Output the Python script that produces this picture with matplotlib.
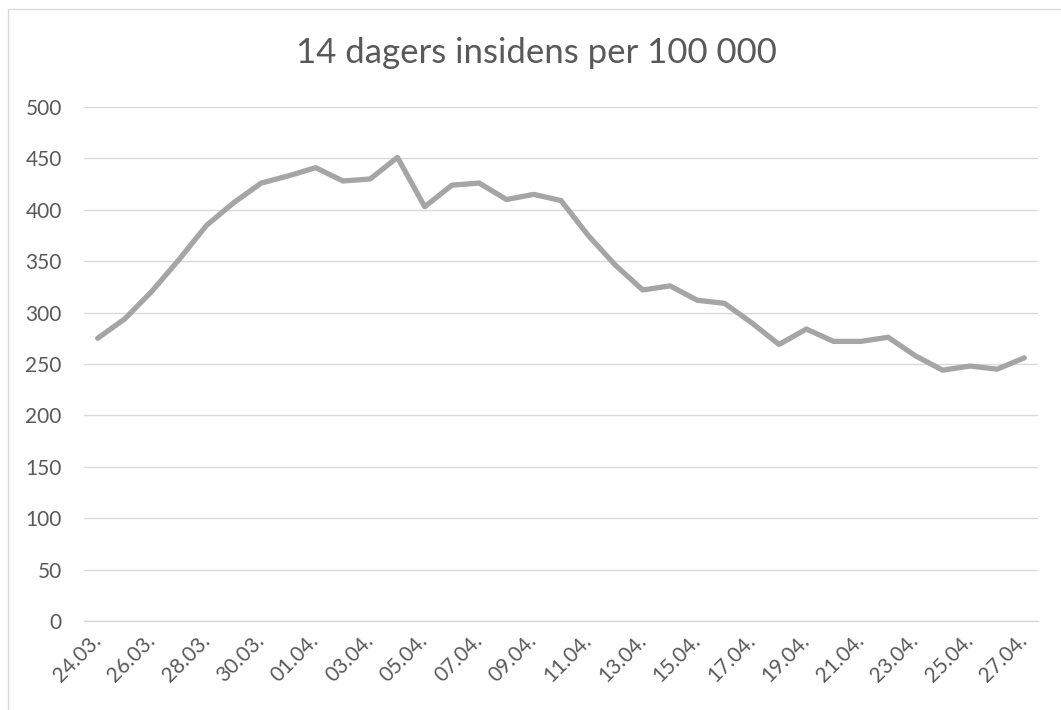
import matplotlib
matplotlib.use("Agg")
import matplotlib.pyplot as plt
from matplotlib.patches import Rectangle

plt.rcParams['font.family'] = ['Lato', 'DejaVu Sans']

dates = ['24.03.', '25.03.', '26.03.', '27.03.', '28.03.', '29.03.', '30.03.', '31.03.',
         '01.04.', '02.04.', '03.04.', '04.04.', '05.04.', '06.04.', '07.04.', '08.04.',
         '09.04.', '10.04.', '11.04.', '12.04.', '13.04.', '14.04.', '15.04.', '16.04.',
         '17.04.', '18.04.', '19.04.', '20.04.', '21.04.', '22.04.', '23.04.', '24.04.',
         '25.04.', '26.04.', '27.04.']
values = [275, 294, 321, 352, 385, 407, 426, 433, 441, 428, 430, 451, 403, 424, 426, 410,
          415, 409, 375, 346, 322, 326, 312, 309, 290, 269, 284, 272, 272, 276, 258, 244,
          248, 245, 256]
y_ticks = [0, 50, 100, 150, 200, 250, 300, 350, 400, 450, 500]
title = '14 dagers insidens per 100 000'

W, H = 1061, 710
fig = plt.figure(figsize=(W / 100, H / 100), dpi=100)
fig.patch.set_facecolor('white')
fig.patches.append(Rectangle((8 / W, -0.05), 1.1, 1 - 9 / H + 0.05, transform=fig.transFigure,
                             fill=False, edgecolor='#D9D9D9', linewidth=1.0))

ax = fig.add_axes([84 / W, (H - 621) / H, (1038 - 84) / W, (621 - 107) / H])
x = list(range(len(values)))
ax.plot(x, values, color='#A5A5A5', linewidth=3.8, solid_joinstyle='round', solid_capstyle='round', zorder=3)

ax.set_xlim(-0.5, len(values) - 0.5)
ax.set_ylim(0, 500)
ax.set_yticks(y_ticks)
ax.set_yticklabels([str(v) for v in y_ticks], fontsize=15, color='#595959')
ax.yaxis.grid(True, color='#D9D9D9', linewidth=1.0)
ax.set_axisbelow(True)
ax.tick_params(axis='y', length=0, pad=16)

ax.set_xticks(x[::2])
ax.set_xticklabels(dates[::2], rotation=45, ha='right', va='center', rotation_mode='anchor',
                   fontsize=15, color='#595959')
ax.tick_params(axis='x', length=0, pad=12)

for s in ['left', 'right', 'top']:
    ax.spines[s].set_visible(False)
ax.spines['bottom'].set_color('#D9D9D9')
ax.spines['bottom'].set_linewidth(1.0)

fig.text(536 / W, 1 - 53 / H, title, ha='center', va='center', fontsize=25, color='#595959')

fig.savefig('out.png', dpi=100)
